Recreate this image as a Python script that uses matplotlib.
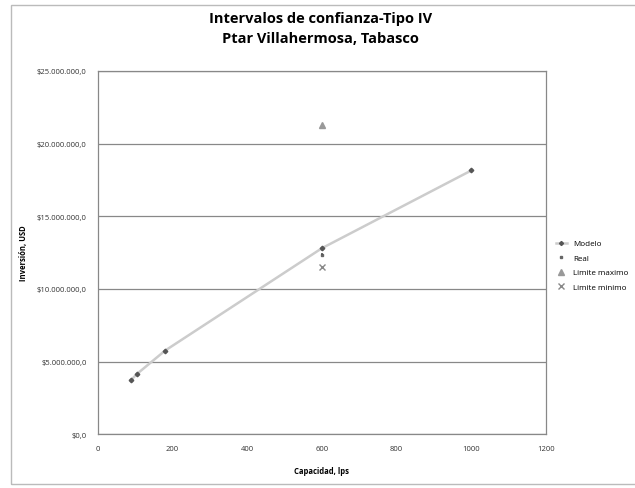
import matplotlib.pyplot as plt
from matplotlib.ticker import FuncFormatter
from matplotlib.patches import Rectangle

plt.rcParams['font.family'] = ['Open Sans', 'DejaVu Sans']

# datos
cap_modelo = [88, 105, 180, 600, 1000]
inv_modelo = [3.7e6, 4.15e6, 5.75e6, 12.8e6, 18.15e6]
cap_real = [600]
inv_real = [12.3e6]
cap_max = [600]
inv_max = [21.3e6]
cap_min = [600]
inv_min = [11.5e6]

fig = plt.figure(figsize=(6.35, 4.89), dpi=100)
ax = fig.add_axes([0.154, 0.110, 0.706, 0.743])

# marco exterior del grafico
fig.patches.append(Rectangle((0.018, 0.008), 0.99, 0.98, transform=fig.transFigure,
                             fill=False, edgecolor='#bbbbbb', linewidth=1.0))

ax.plot(cap_modelo, inv_modelo, color='#cccccc', linewidth=1.8, marker='D',
        markersize=2.3, markerfacecolor='#555555', markeredgecolor='#555555',
        label='Modelo', zorder=3)
ax.plot(cap_real, inv_real, linestyle='none', marker='s', markersize=1.8,
        color='#666666', label='Real', zorder=3)
ax.plot([600, 600], [12.8e6, 12.3e6], linestyle=(0, (1.5, 1.5)), color='#555555',
        linewidth=1.2, zorder=3)
ax.plot(cap_max, inv_max, linestyle='none', marker='^', markersize=4.5,
        color='#999999', label='Limite maximo', zorder=3)
ax.plot(cap_min, inv_min, linestyle='none', marker='x', markersize=5,
        color='#888888', label='Limite minimo', zorder=3)

ax.set_xlim(0, 1200)
ax.set_ylim(0, 25e6)
ax.set_xticks(range(0, 1201, 200))
ax.set_yticks([0, 5e6, 10e6, 15e6, 20e6, 25e6])


def fmt_dinero(v, pos):
    s = '{:,.1f}'.format(v)
    s = s.replace(',', 'X').replace('.', ',').replace('X', '.')
    return '$' + s


ax.yaxis.set_major_formatter(FuncFormatter(fmt_dinero))
ax.yaxis.grid(True, color='#888888', linewidth=0.9)
ax.set_axisbelow(True)
ax.tick_params(axis='both', labelsize=5.5, length=0, colors='#333333', pad=8)
for sp in ax.spines.values():
    sp.set_color('#888888')
    sp.set_linewidth(0.9)

ax.set_xlabel('Capacidad, lps', fontsize=5.5, fontweight='bold', labelpad=10)
ax.set_ylabel('Inversión, USD', fontsize=5.5, fontweight='bold', labelpad=6)
fig.suptitle('Intervalos de confianza-Tipo IV\nPtar Villahermosa, Tabasco',
             fontsize=10.5, fontweight='bold', y=0.975, x=0.505, linespacing=1.5)

ax.legend(loc='center left', bbox_to_anchor=(1.005, 0.465), frameon=False,
          fontsize=5.8, handlelength=1.4, labelspacing=0.85, markerscale=0.9)

plt.savefig('out.png', dpi=100)
